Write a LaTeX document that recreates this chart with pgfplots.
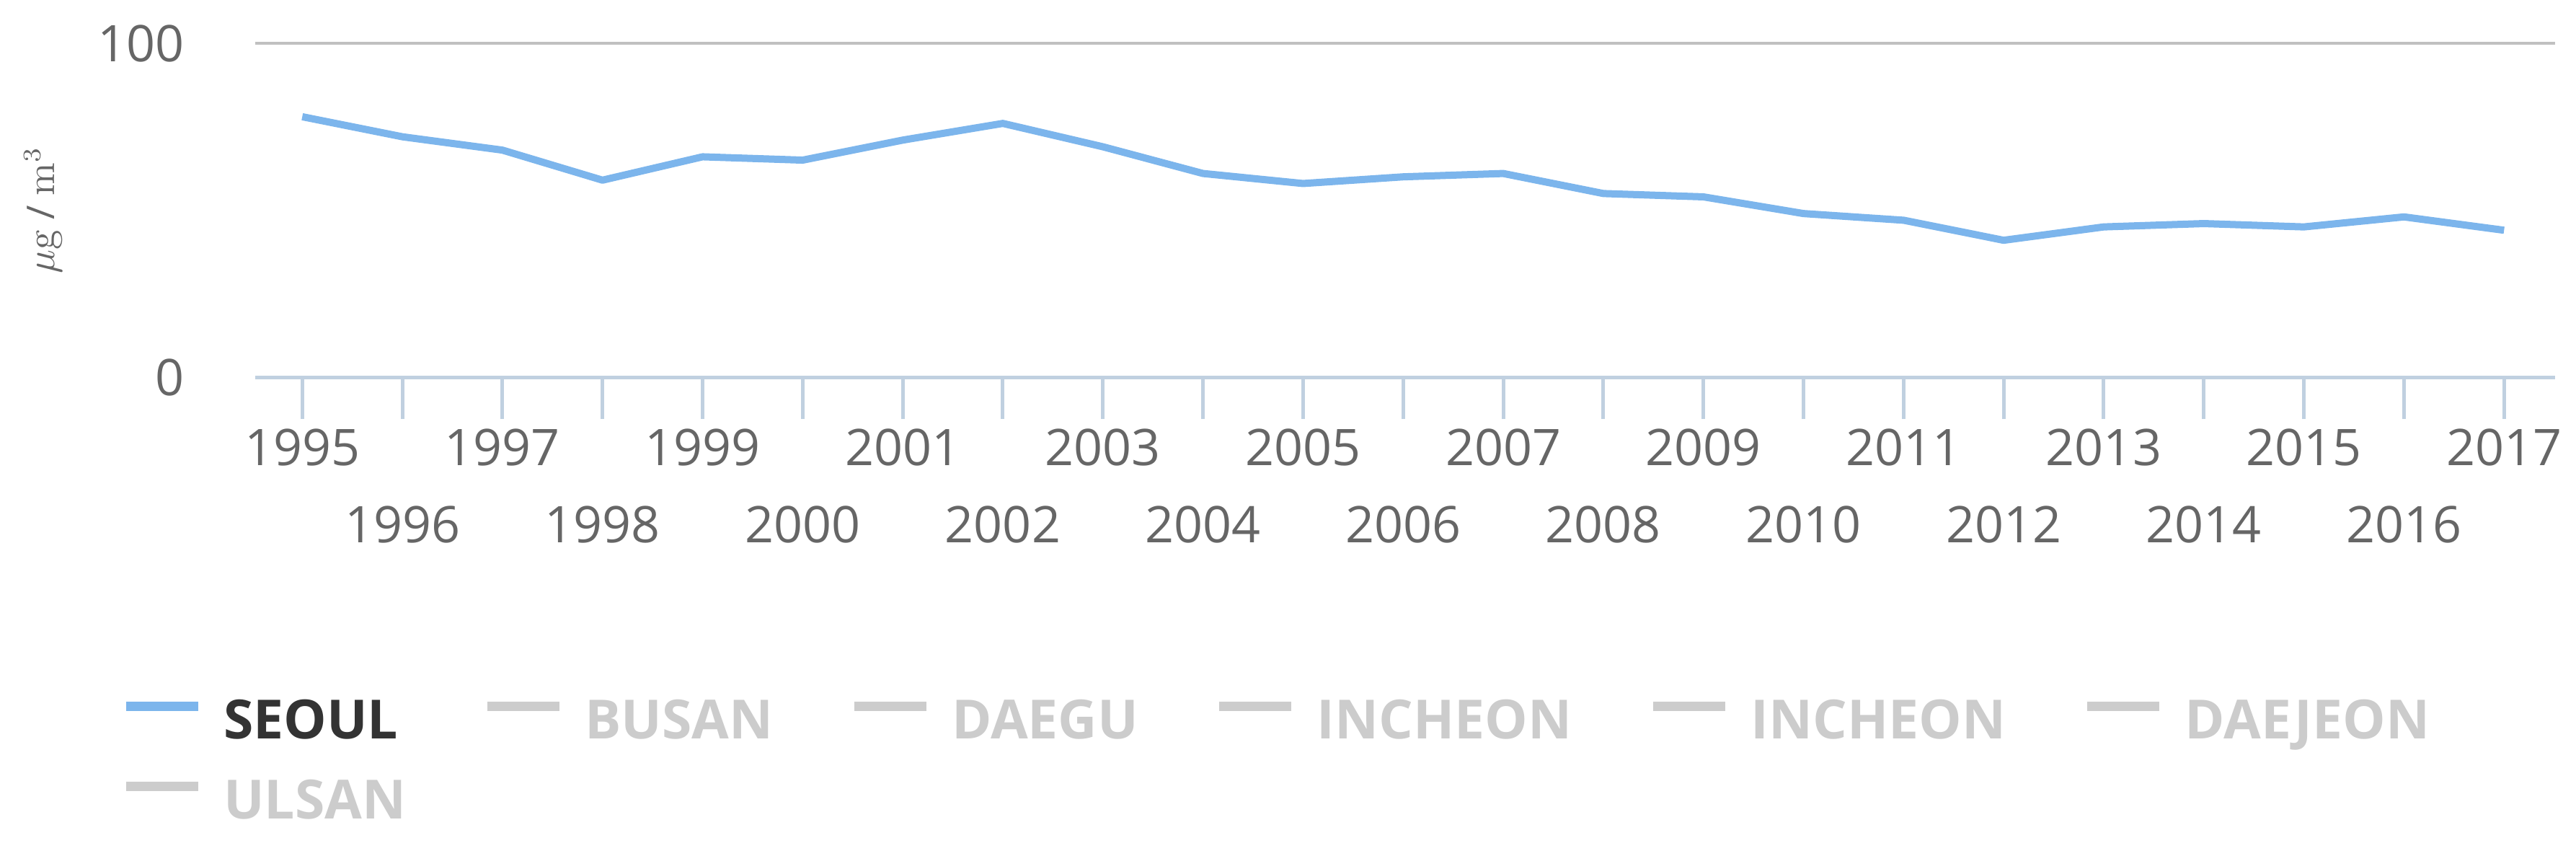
\documentclass[border=0pt]{standalone}
\usepackage[no-math]{fontspec}
\setmainfont{Open Sans}
\usepackage{pgfplots}
\pgfplotsset{compat=1.18}
\usepackage{pgfplotstable}
\definecolor{seoul}{HTML}{7CB5EC}
\definecolor{axisc}{HTML}{C0D0E0}
\definecolor{gridc}{HTML}{C0C0C0}
\definecolor{labelc}{HTML}{666666}
\definecolor{legc}{HTML}{333333}
\definecolor{hidc}{HTML}{CCCCCC}
\pgfplotstableread{
idx year val
0 1995 78
1 1996 72
2 1997 68
3 1998 59
4 1999 66
5 2000 65
6 2001 71
7 2002 76
8 2003 69
9 2004 61
10 2005 58
11 2006 60
12 2007 61
13 2008 55
14 2009 54
15 2010 49
16 2011 47
17 2012 41
18 2013 45
19 2014 46
20 2015 45
21 2016 48
22 2017 44
}\seouldata
\begin{document}
\begin{tikzpicture}
\useasboundingbox (0,0) rectangle (714.6pt,233.6pt);
\begin{axis}[
  at={(70.8pt,129pt)}, anchor=south west,
  width=638pt, height=92.6pt, scale only axis,
  xmin=-0.47, xmax=22.51, ymin=0, ymax=100,
  clip=false,
  axis x line*=bottom, axis y line*=left,
  x axis line style={color=axisc, line width=1pt, -},
  y axis line style={draw=none},
  ytick={0,100}, yticklabels={0,100},
  ytick style={draw=none},
  ymajorgrids, major grid style={color=gridc, line width=0.8pt},
  xtick={0,2,4,6,8,10,12,14,16,18,20,22},
  xticklabels={1995,1997,1999,2001,2003,2005,2007,2009,2011,2013,2015,2017},
  extra x ticks={1,3,5,7,9,11,13,15,17,19,21},
  extra x tick labels={1996,1998,2000,2002,2004,2006,2008,2010,2012,2014,2016},
  extra x tick style={xticklabel style={yshift=-21.4pt}},
  tick align=outside, major tick length=11.6pt,
  xtick style={color=axisc, line width=1pt},
  tick label style={font=\fontsize{14}{16}\selectfont, color=labelc},
  xticklabel style={anchor=center, yshift=-7.8pt},
  yticklabel style={anchor=east, xshift=-4.6pt},
  ylabel={$\mu\mathrm{g}$ / $\mathrm{m}^{3}$},
  every axis y label/.style={at={(axis description cs:-0.0922,0.5)}, rotate=90, anchor=center, color=labelc, font=\fontsize{10.6}{12}\selectfont},
  legend columns=6,
  legend cell align=left,
  legend image code/.code={\draw[#1, line width=2.6pt, line cap=butt] (0pt,5pt) -- (20pt,5pt);},
  legend style={at={(axis description cs:-0.0583,-0.965)}, anchor=north west,
    draw=none, fill=none, inner sep=0pt, outer sep=0pt, text=legc,
    font=\fontsize{15}{18}\selectfont\bfseries,
    nodes={inner sep=0pt, text height=11pt, text depth=3pt},
    row sep=8.2pt,
    /tikz/every odd column/.append style={column sep=5.8pt},
    /tikz/every even column/.append style={column sep=21.2pt}},
]
\addplot[color=seoul, line width=2pt, line join=round, mark=none] table[x=idx,y=val]{\seouldata};
\addlegendentry{SEOUL}
\addlegendimage{hidc}
\addlegendentry{\textcolor{hidc}{BUSAN}}
\addlegendimage{hidc}
\addlegendentry{\textcolor{hidc}{DAEGU}}
\addlegendimage{hidc}
\addlegendentry{\textcolor{hidc}{INCHEON}}
\addlegendimage{hidc}
\addlegendentry{\textcolor{hidc}{INCHEON}}
\addlegendimage{hidc}
\addlegendentry{\textcolor{hidc}{DAEJEON}}
\addlegendimage{hidc}
\addlegendentry{\textcolor{hidc}{ULSAN}}
\end{axis}
\end{tikzpicture}
\end{document}
